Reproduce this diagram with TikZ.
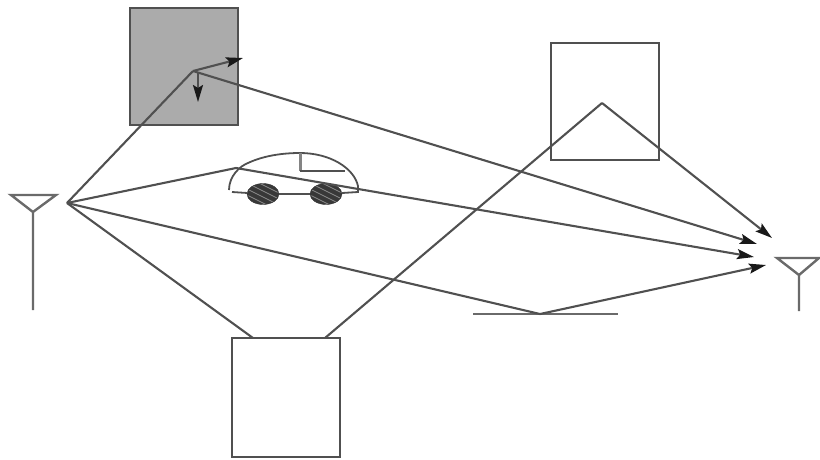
\documentclass[tikz,border=0pt]{standalone}
\usetikzlibrary{arrows.meta,shapes.geometric}
\definecolor{ln}{HTML}{505050}
\definecolor{boxgray}{HTML}{ABABAB}
\tikzset{
  x=1pt,y=-1pt,
  ray/.style={draw=ln,line width=2.1pt},
  rayarrow/.style={ray,-{Stealth[length=17pt,width=10pt,inset=3pt,color=black!90]}},
  block/.style={draw=ln,line width=2.4pt,minimum width=108pt,inner sep=0pt,outer sep=0pt,anchor=north west},
  wheel/.style={ellipse,draw=black!78,fill=black!78,minimum width=32pt,minimum height=21pt,inner sep=0pt},
  ant/.style={draw=ln!85,line width=2.4pt},
  carline/.style={draw=ln,line width=1.8pt},
  carpost/.style={draw=ln!70,line width=3pt}
}
\begin{document}
\begin{tikzpicture}
\useasboundingbox (0,0) rectangle (820,459);
\node[block,fill=boxgray,minimum height=117pt] (gray) at (130,8) {};
\node[block,minimum height=117pt] (upper) at (551,43) {};
\node[block,minimum height=119pt] (lower) at (232,338) {};
% antennas
\coordinate (lfeed) at (33,212);
\coordinate (lfoot) at (33,310);
\coordinate (la) at (11,195);
\coordinate (lb) at (56,195);
\draw[ant] (la) -- (lb) -- (lfeed) -- cycle (lfeed) -- (lfoot);
\coordinate (rfeed) at (799,275);
\coordinate (rfoot) at (799,311);
\coordinate (ra) at (777,258);
\coordinate (rb) at (819,258);
\draw[ant] (ra) -- (rb) -- (rfeed) -- cycle (rfeed) -- (rfoot);
% ground
\coordinate (g1) at (473,314);
\coordinate (g2) at (618,314);
\draw[ant] (g1) -- (g2);
% ray points
\coordinate (tx) at (67,203);
\coordinate (hit) at (193,71);
\coordinate (peak) at (602,103);
\coordinate (carhit) at (236,168);
\coordinate (gnd) at (540,314);
\coordinate (lowL) at (253,338);
\coordinate (lowR) at (325,338);
\coordinate (t1) at (772,238);
\coordinate (t2) at (757,244);
\coordinate (t3) at (754,257);
\coordinate (t4) at (766,265);
\coordinate (s1) at (243,58);
\coordinate (s2) at (198,102);
\coordinate (hitb) at (198,73);
% car
\node[wheel] (w1) at (263,194) {};
\node[wheel] (w2) at (326,194) {};
\foreach \n in {w1,w2}{
  \begin{scope}
    \clip (\n) ellipse [x radius=15,y radius=10];
    \foreach \d in {-18,-14,-10,-6,-2,2,6,10,14,18}
      \draw[black!45,line width=.7pt] ([xshift=\d-14,yshift=\d+7]\n.center) -- ([xshift=\d+14,yshift=\d-7]\n.center);
  \end{scope}
}
\coordinate (c0) at (229,190);
\coordinate (c1) at (358,186);
\coordinate (roof) at (300,153);
\coordinate (win) at (300,171);
\coordinate (winr) at (345,171);
\coordinate (c2) at (358,192);
\coordinate (c3) at (232,192);
\draw[carline] (c0) .. controls (229,176) and (240,166) .. (248,163) .. controls (265,155) and (285,153) .. (roof) .. controls (330,153) and (354,168) .. (c1);
\draw[carline] (c1) -- (c2) -- (w2);
\draw[carline] (w2) -- (w1) -- (c3);
\draw[carpost] (roof) -- (win);
\draw[carline] (win) -- (winr);
% rays
\draw[ray] (tx) -- (hit);
\draw[rayarrow] (hit) -- (s1);
\draw[rayarrow] (hitb) -- (s2);
\draw[rayarrow] (hit) -- (t2);
\draw[ray] (tx) -- (carhit);
\draw[rayarrow] (carhit) -- (t3);
\draw[ray] (tx) -- (gnd);
\draw[rayarrow] (gnd) -- (t4);
\draw[ray] (tx) -- (lowL);
\draw[ray] (lowR) -- (peak);
\draw[rayarrow] (peak) -- (t1);
\end{tikzpicture}
\end{document}
